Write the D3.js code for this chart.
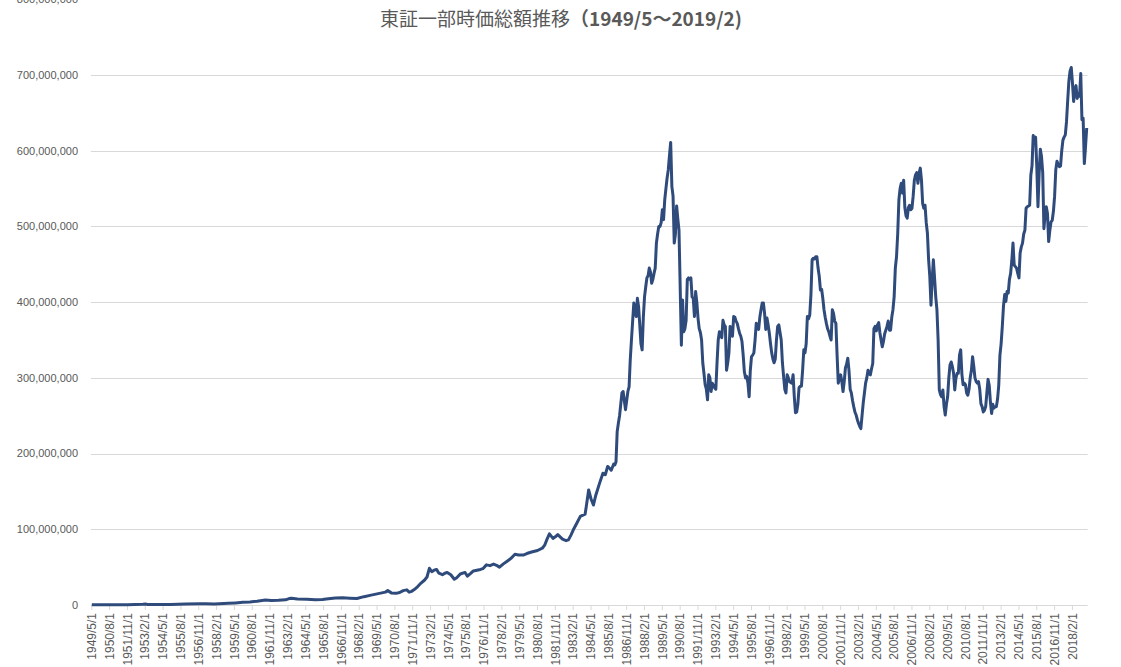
<!DOCTYPE html>
<html>
<head>
<meta charset="utf-8">
<script src="https://cdn.jsdelivr.net/npm/d3@7"></script>
<style>
  body { margin: 0; background: #fff; }
  svg { display: block; }
</style>
</head>
<body>
<svg id="chart" width="1121" height="667"></svg>
<script>
// monthly market cap, values in millions of axis units (x 1,000,000)
const d1949_1969 = [
  ["1949/5",0.2],["1950/6",0.2],["1951/11",0.4],["1952/12",0.9],["1953/2",1.2],["1953/4",0.8],
  ["1954/11",0.8],["1955/12",1.2],["1956/12",1.5],["1957/5",1.7],["1957/12",1.4],["1958/12",2.2],
  ["1959/6",2.8],["1959/12",3.5],["1960/6",4.0],["1960/12",5.0],["1961/7",6.5],["1961/12",6.0],
  ["1962/6",6.2],["1962/12",6.8],["1963/3",8.5],["1963/5",9.0],["1963/10",7.8],["1964/6",7.5],
  ["1965/1",7.0],["1965/7",7.2],["1965/12",8.2],["1966/6",9.2],["1966/12",9.5],["1967/6",9.0],
  ["1967/12",8.5],["1968/6",11],["1968/12",13],["1969/3",14],["1969/7",15.4],["1969/12",17]
];
const d1970s = [
  ["1970/2",19],["1970/5",16],["1970/9",15.4],["1970/12",16.5],["1971/3",19],["1971/6",20],
  ["1971/8",17],["1971/10",18],["1971/12",20],["1972/3",24],["1972/6",29],["1972/9",33],
  ["1972/11",37],["1973/1",48.5],["1973/3",44],["1973/5",46],["1973/7",47],["1973/9",42],
  ["1973/12",40],["1974/2",42],["1974/4",43],["1974/7",40],["1974/10",34],["1974/12",36],
  ["1975/3",41],["1975/7",43],["1975/9",38],["1975/12",42],["1976/2",45],["1976/5",46],
  ["1976/8",47],["1976/10",48],["1977/1",53],["1977/4",52],["1977/7",54],["1977/10",52],
  ["1977/12",50],["1978/3",54],["1978/7",58.5],["1978/10",62],["1979/1",67],["1979/4",66],
  ["1979/8",66],["1979/11",68]
];
const d1980s = [
  ["1980/3",70],["1980/8",72],["1980/12",75],["1981/2",79],["1981/4",87],["1981/6",94],
  ["1981/9",88],["1981/11",90],["1982/1",93],["1982/5",87],["1982/8",85],["1982/10",86],
  ["1982/12",92],["1983/2",99],["1983/5",108],["1983/8",117],["1983/12",120],["1984/1",130],
  ["1984/3",152],["1984/5",140],["1984/7",132],["1984/9",145],["1984/12",160],["1985/3",174],
  ["1985/5",172],["1985/7",183],["1985/9",180],["1985/10",178],["1985/11",182],["1985/12",186],
  ["1986/1",185],["1986/2",189],["1986/3",229],["1986/4",240],["1986/5",250],["1986/6",265],
  ["1986/7",280],["1986/8",282],["1986/9",270],["1986/10",258],["1986/11",270],["1986/12",282],
  ["1987/1",288],["1987/2",324],["1987/3",350],["1987/4",375],["1987/5",399],["1987/6",390],
  ["1987/7",381],["1987/8",405],["1987/9",394],["1987/10",370],["1987/11",345],["1987/12",337],
  ["1988/1",380],["1988/2",407],["1988/3",420],["1988/4",432],["1988/5",435],["1988/6",445],
  ["1988/7",440],["1988/8",425],["1988/9",430],["1988/10",438],["1988/11",445],["1988/12",478],
  ["1989/1",490],["1989/2",500],["1989/3",500],["1989/4",505],["1989/5",522],["1989/6",509],
  ["1989/7",535],["1989/8",550],["1989/9",564],["1989/10",575],["1989/11",594],["1989/12",611]
];
const d1990s = [
  ["1990/1",553],["1990/2",540],["1990/3",478],["1990/4",490],["1990/5",527],["1990/6",510],
  ["1990/7",495],["1990/8",420],["1990/9",343],["1990/10",403],["1990/11",361],["1990/12",365],
  ["1991/1",376],["1991/2",430],["1991/3",432],["1991/4",430],["1991/5",432],["1991/6",407],
  ["1991/7",405],["1991/8",381],["1991/9",414],["1991/10",400],["1991/11",379],["1991/12",365],
  ["1992/1",360],["1992/2",350],["1992/3",320],["1992/4",306],["1992/5",291],["1992/6",285],
  ["1992/7",271],["1992/8",304],["1992/9",300],["1992/10",282],["1992/11",293],["1992/12",290],
  ["1993/1",287],["1993/2",285],["1993/3",320],["1993/4",350],["1993/5",361],["1993/6",358],
  ["1993/7",353],["1993/8",376],["1993/9",370],["1993/10",368],["1993/11",310],["1993/12",320],
  ["1994/1",333],["1994/2",368],["1994/3",360],["1994/4",355],["1994/5",381],["1994/6",380],
  ["1994/7",375],["1994/8",372],["1994/9",365],["1994/10",359],["1994/11",355],["1994/12",348],
  ["1995/1",330],["1995/2",308],["1995/3",300],["1995/4",302],["1995/5",293],["1995/6",275],
  ["1995/7",310],["1995/8",328],["1995/9",330],["1995/10",333],["1995/11",350],["1995/12",372],
  ["1996/1",368],["1996/2",364],["1996/3",380],["1996/4",390],["1996/5",399],["1996/6",399],
  ["1996/7",385],["1996/8",364],["1996/9",379],["1996/10",370],["1996/11",359],["1996/12",345],
  ["1997/1",333],["1997/2",325],["1997/3",320],["1997/4",325],["1997/5",350],["1997/6",368],
  ["1997/7",370],["1997/8",360],["1997/9",350],["1997/10",320],["1997/11",302],["1997/12",285],
  ["1998/1",280],["1998/2",304],["1998/3",300],["1998/4",295],["1998/5",294],["1998/6",293],
  ["1998/7",304],["1998/8",275],["1998/9",254],["1998/10",255],["1998/11",265],["1998/12",287],
  ["1999/1",289],["1999/2",289],["1999/3",310],["1999/4",337],["1999/5",333],["1999/6",345],
  ["1999/7",381],["1999/8",378],["1999/9",383],["1999/10",410],["1999/11",456],["1999/12",458]
];
const d2000s = [
  ["2000/1",457],["2000/2",460],["2000/3",460],["2000/4",445],["2000/5",434],["2000/6",416],
  ["2000/7",417],["2000/8",405],["2000/9",390],["2000/10",380],["2000/11",372],["2000/12",365],
  ["2001/1",361],["2001/2",355],["2001/3",350],["2001/4",390],["2001/5",385],["2001/6",375],
  ["2001/7",372],["2001/8",330],["2001/9",293],["2001/10",300],["2001/11",304],["2001/12",295],
  ["2002/1",282],["2002/2",295],["2002/3",313],["2002/4",318],["2002/5",326],["2002/6",310],
  ["2002/7",285],["2002/8",280],["2002/9",270],["2002/10",262],["2002/11",255],["2002/12",251],
  ["2003/1",245],["2003/2",240],["2003/3",236],["2003/4",233],["2003/5",250],["2003/6",267],
  ["2003/7",280],["2003/8",293],["2003/9",300],["2003/10",310],["2003/11",305],["2003/12",304],
  ["2004/1",312],["2004/2",319],["2004/3",365],["2004/4",368],["2004/5",362],["2004/6",370],
  ["2004/7",373],["2004/8",360],["2004/9",350],["2004/10",341],["2004/11",348],["2004/12",358],
  ["2005/1",363],["2005/2",368],["2005/3",375],["2005/4",363],["2005/5",363],["2005/6",380],
  ["2005/7",390],["2005/8",407],["2005/9",445],["2005/10",460],["2005/11",490],["2005/12",535],
  ["2006/1",550],["2006/2",557],["2006/3",544],["2006/4",561],["2006/5",525],["2006/6",514],
  ["2006/7",511],["2006/8",525],["2006/9",528],["2006/10",522],["2006/11",524],["2006/12",540],
  ["2007/1",561],["2007/2",568],["2007/3",571],["2007/4",557],["2007/5",570],["2007/6",577],
  ["2007/7",561],["2007/8",530],["2007/9",524],["2007/10",528],["2007/11",505],["2007/12",491],
  ["2008/1",456],["2008/2",434],["2008/3",396],["2008/4",430],["2008/5",456],["2008/6",432],
  ["2008/7",407],["2008/8",390],["2008/9",350],["2008/10",284],["2008/11",278],["2008/12",275],
  ["2009/1",284],["2009/2",262],["2009/3",251],["2009/4",265],["2009/5",275],["2009/6",300],
  ["2009/7",317],["2009/8",321],["2009/9",315],["2009/10",306],["2009/11",284],["2009/12",300]
];
const d2010s = [
  ["2010/1",306],["2010/2",306],["2010/3",330],["2010/4",337],["2010/5",305],["2010/6",291],
  ["2010/7",293],["2010/8",291],["2010/9",280],["2010/10",277],["2010/11",285],["2010/12",300],
  ["2011/1",310],["2011/2",328],["2011/3",315],["2011/4",300],["2011/5",295],["2011/6",293],
  ["2011/7",295],["2011/8",285],["2011/9",266],["2011/10",262],["2011/11",255],["2011/12",257],
  ["2012/1",262],["2012/2",280],["2012/3",298],["2012/4",290],["2012/5",268],["2012/6",253],
  ["2012/7",265],["2012/8",260],["2012/9",262],["2012/10",262],["2012/11",272],["2012/12",290],
  ["2013/1",330],["2013/2",345],["2013/3",368],["2013/4",395],["2013/5",410],["2013/6",401],
  ["2013/7",414],["2013/8",412],["2013/9",430],["2013/10",438],["2013/11",455],["2013/12",478],
  ["2014/1",449],["2014/2",447],["2014/3",445],["2014/4",438],["2014/5",432],["2014/6",465],
  ["2014/7",473],["2014/8",478],["2014/9",490],["2014/10",495],["2014/11",524],["2014/12",526],
  ["2015/1",527],["2015/2",528],["2015/3",568],["2015/4",580],["2015/5",620],["2015/6",610],
  ["2015/7",618],["2015/8",579],["2015/9",526],["2015/10",570],["2015/11",602],["2015/12",592],
  ["2016/1",571],["2016/2",497],["2016/3",515],["2016/4",526],["2016/5",517],["2016/6",480],
  ["2016/7",495],["2016/8",506],["2016/9",508],["2016/10",520],["2016/11",540],["2016/12",575],
  ["2017/1",586],["2017/2",582],["2017/3",579],["2017/4",580],["2017/5",600],["2017/6",614],
  ["2017/7",618],["2017/8",621],["2017/9",638],["2017/10",666],["2017/11",692],["2017/12",705],
  ["2018/1",710],["2018/2",690],["2018/3",665],["2018/4",680],["2018/5",686],["2018/6",669],
  ["2018/7",675],["2018/8",672],["2018/9",702],["2018/10",641],["2018/11",643],["2018/12",583],
  ["2019/1",605],["2019/2",630]
];

const UNIT = 1e6;
const firstMonth = "1949/5";
const lastMonth = "2019/2";
const yTicks = [0, 100e6, 200e6, 300e6, 400e6, 500e6, 600e6, 700e6, 800e6];
const labelStep = 15; // a category label every 15 months

const title = "東証一部時価総額推移";
const titleRange = "（1949/5～2019/2)";

const monthIndex = s => {
  const [yy, mm] = s.split('/').map(Number);
  const [y0, m0] = firstMonth.split('/').map(Number);
  return (yy - y0) * 12 + (mm - m0);
};
const monthLabel = i => {
  const [y0, m0] = firstMonth.split('/').map(Number);
  const t = (m0 - 1) + i;
  return (y0 + Math.floor(t / 12)) + '/' + (t % 12 + 1) + '/1';
};

const points = [].concat(d1949_1969, d1970s, d1980s, d1990s, d2000s, d2010s)
  .map(d => ({ m: monthIndex(d[0]), v: d[1] * UNIT }));

const svg = d3.select('#chart');
const plotLeft = 91.8, plotRight = 1086.7, plotTop = -0.7, plotBottom = 605;

const x = d3.scaleLinear().domain([0, monthIndex(lastMonth)]).range([plotLeft, plotRight]);
const y = d3.scaleLinear().domain([0, 800e6]).range([plotBottom, plotTop]);

const grey = '#595959';

// gridlines
svg.append('g')
  .selectAll('line')
  .data(yTicks)
  .enter()
  .append('line')
  .attr('x1', plotLeft - 1)
  .attr('x2', plotRight + 1)
  .attr('y1', d => Math.round(y(d)) + 0.5)
  .attr('y2', d => Math.round(y(d)) + 0.5)
  .attr('stroke', '#d9d9d9')
  .attr('stroke-width', 1);

// y labels
svg.append('g')
  .selectAll('text')
  .data(yTicks)
  .enter()
  .append('text')
  .attr('x', 78)
  .attr('y', d => y(d))
  .attr('dy', '0.35em')
  .attr('text-anchor', 'end')
  .attr('fill', grey)
  .style('font-family', 'Liberation Sans, Arial, sans-serif')
  .style('font-size', '11px')
  .text(d => d3.format(',')(d));

// x ticks + labels
const tickMonths = d3.range(0, monthIndex(lastMonth) + 1, labelStep);

svg.append('g')
  .selectAll('line')
  .data(tickMonths)
  .enter()
  .append('line')
  .attr('x1', d => x(d))
  .attr('x2', d => x(d))
  .attr('y1', plotBottom)
  .attr('y2', plotBottom + 5)
  .attr('stroke', '#d9d9d9');

svg.append('g')
  .selectAll('text')
  .data(tickMonths)
  .enter()
  .append('text')
  .attr('transform', d => 'translate(' + x(d) + ',' + (plotBottom + 8) + ') rotate(-90)')
  .attr('dy', '0.35em')
  .attr('text-anchor', 'end')
  .attr('fill', grey)
  .style('font-family', 'Liberation Sans, Arial, sans-serif')
  .style('font-size', '12px')
  .text(d => monthLabel(d));

// the series
const line = d3.line()
  .x(d => x(d.m))
  .y(d => y(d.v));

svg.append('path')
  .datum(points)
  .attr('d', line)
  .attr('fill', 'none')
  .attr('stroke', '#2f4b7c')
  .attr('stroke-width', 3)
  .attr('stroke-linejoin', 'round');

// title
const titleText = svg.append('text')
  .attr('x', 561)
  .attr('y', 26)
  .attr('text-anchor', 'middle')
  .attr('fill', grey)
  .style('font-family', 'Noto Sans CJK JP, sans-serif')
  .style('font-size', '19px');
titleText.append('tspan').text(title);
titleText.append('tspan').style('font-weight', 'bold').text(titleRange);
</script>
</body>
</html>
